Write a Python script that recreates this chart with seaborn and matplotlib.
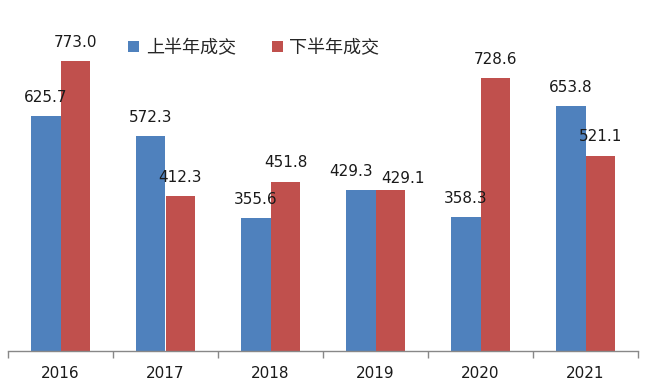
import matplotlib
matplotlib.use('Agg')
import matplotlib.pyplot as plt
import pandas as pd
import seaborn as sns
import numpy as np

years = ['2016', '2017', '2018', '2019', '2020', '2021']
first_half = [625.7, 572.3, 355.6, 429.3, 358.3, 653.8]
second_half = [773.0, 412.3, 451.8, 429.1, 728.6, 521.1]
series_names = ['上半年成交', '下半年成交']
colors = ['#4F81BD', '#C0504D']

df = pd.DataFrame({
    'year': years * 2,
    'value': first_half + second_half,
    'half': [series_names[0]] * len(years) + [series_names[1]] * len(years),
})

sns.set_style('white')
plt.rcParams['font.family'] = ['DejaVu Sans', 'Noto Sans CJK SC']

fig = plt.figure(figsize=(6.48, 3.89), dpi=100)
ax = fig.add_axes([8 / 648, 38 / 389, 630 / 648, 337.5 / 389])

sns.barplot(data=df, x='year', y='value', hue='half', palette=colors,
            width=0.57, gap=0, saturation=1, ax=ax, errorbar=None, linewidth=0)

for cont in ax.containers:
    labels = ax.bar_label(cont, fmt='%.1f', padding=8, fontsize=11, color='#1a1a1a')
    # the 2019 pair would collide, so nudge them apart like the original does
    if cont is ax.containers[0]:
        labels[3].set_x(-7)
    else:
        labels[3].set_x(9)
        labels[3].set_y(3)

ax.set_ylim(0, 900)
ax.set_xlim(-0.5, 5.5)
ax.set_xlabel('')
ax.set_ylabel('')
ax.set_yticks([])

for s in ['top', 'right', 'left']:
    ax.spines[s].set_visible(False)
ax.spines['bottom'].set_color('#888888')
ax.spines['bottom'].set_linewidth(1)

ax.set_xticks(np.arange(-0.5, 6, 1), minor=True)
ax.tick_params(axis='x', which='minor', bottom=True, length=5, color='#888888', width=1, direction='out')
ax.tick_params(axis='x', which='major', bottom=True, length=0, pad=11, labelsize=11, labelcolor='#1a1a1a')

leg = ax.legend(loc='center', bbox_to_anchor=(0.39, 0.898), ncol=2, frameon=False,
                fontsize=13, handlelength=0.6, handleheight=0.6, handletextpad=0.35,
                columnspacing=2.0)

fig.savefig('out.png', dpi=100)
